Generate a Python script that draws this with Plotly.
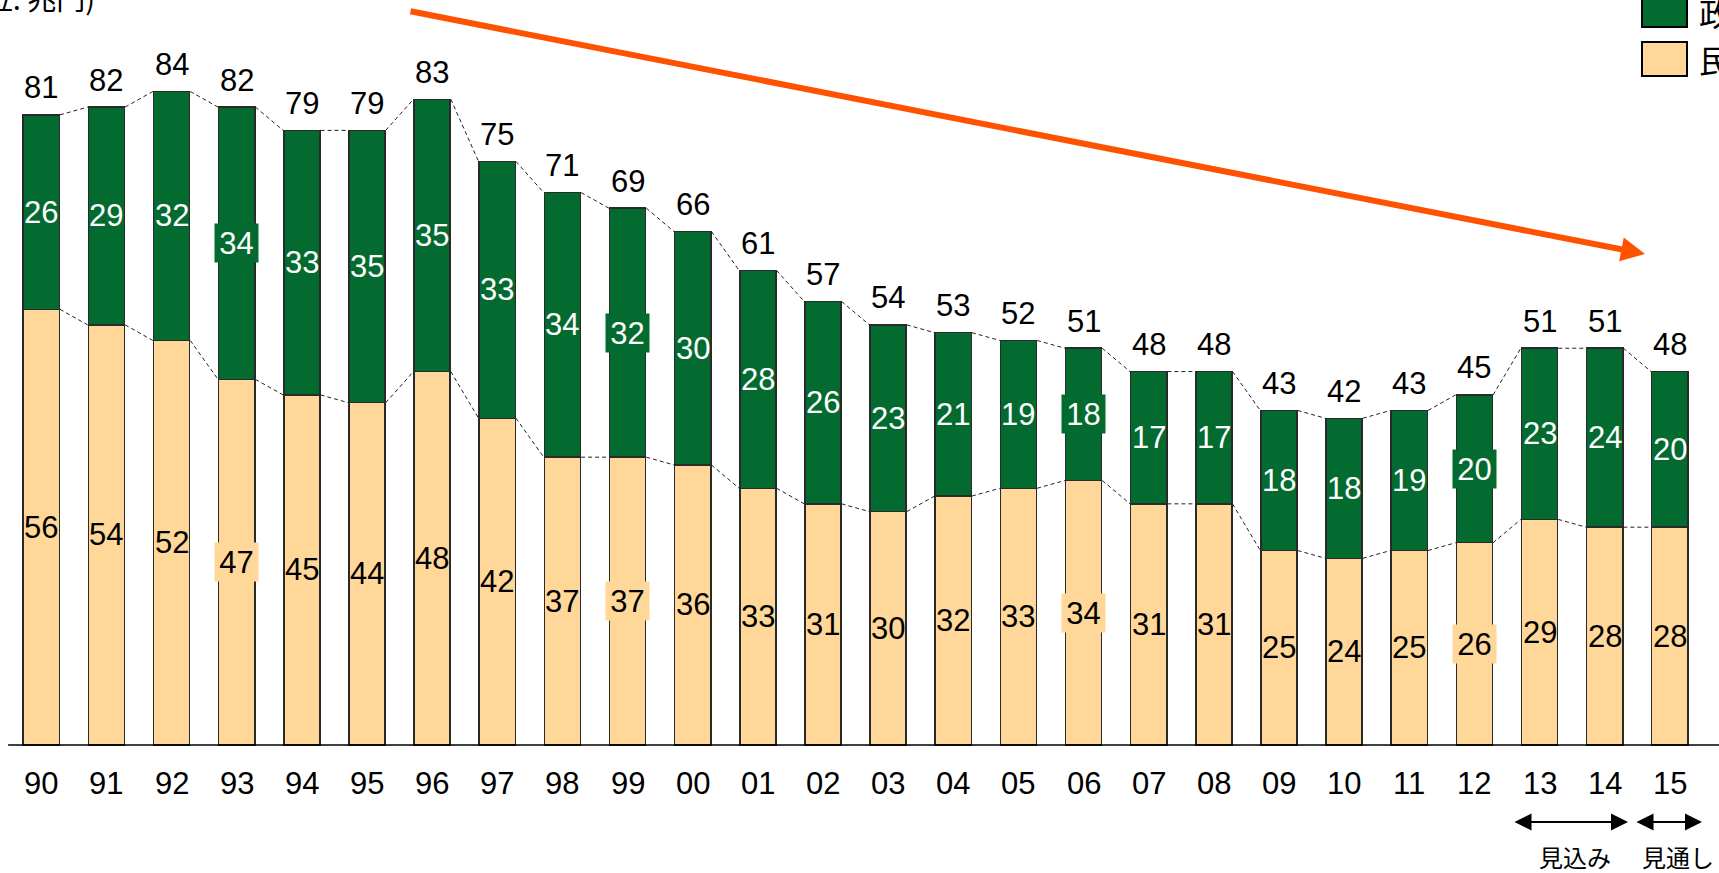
import plotly.graph_objects as go

# ---------------- data ----------------
years = ["90", "91", "92", "93", "94", "95", "96", "97", "98", "99", "00", "01", "02",
         "03", "04", "05", "06", "07", "08", "09", "10", "11", "12", "13", "14", "15"]
private = [56, 54, 52, 47, 45, 44, 48, 42, 37, 37, 36, 33, 31,
           30, 32, 33, 34, 31, 31, 25, 24, 25, 26, 29, 28, 28]
gov = [26, 29, 32, 34, 33, 35, 35, 33, 34, 32, 30, 28, 26,
       23, 21, 19, 18, 17, 17, 18, 18, 19, 20, 23, 24, 20]
total = [81, 82, 84, 82, 79, 79, 83, 75, 71, 69, 66, 61, 57,
         54, 53, 52, 51, 48, 48, 43, 42, 43, 45, 51, 51, 48]
boxed_years = ["93", "99", "06", "12"]
legend_names = ["政府", "民間"]
unit_text = "(単位: 兆円)"
period_labels = ["見込み", "見通し"]

# ---------------- style ----------------
W, H = 1719, 873
GREEN = "#036B30"
TAN = "#FFD899"
ORANGE = "#FF5200"
EDGE = "#2a2a2a"
FONT = "Liberation Sans, Arial, sans-serif"
JFONT = "Noto Sans CJK JP, sans-serif"
FS = 31
BARW = 0.555
HW = 0.287

n = len(years)
xs = list(range(n))
gov_seg = [t - p for t, p in zip(total, private)]

fig = go.Figure()
fig.add_bar(x=xs, y=private, width=BARW, name=legend_names[1],
            marker=dict(color=TAN, line=dict(color=EDGE, width=1.5)))
fig.add_bar(x=xs, y=gov_seg, width=BARW, name=legend_names[0],
            marker=dict(color=GREEN, line=dict(color=EDGE, width=1.5)))

# dashed connectors
for series in (total, private):
    lx, ly = [], []
    for i in range(n - 1):
        lx += [i + HW, i + 1 - HW, None]
        ly += [series[i], series[i + 1], None]
    fig.add_scatter(x=lx, y=ly, mode="lines", hoverinfo="skip",
                    line=dict(color="#222", width=1, dash="4px,3px"))

annotations = []
for i, yr in enumerate(years):
    boxed = yr in boxed_years
    annotations.append(dict(
        x=i, y=private[i] / 2, xref="x", yref="y", text=str(private[i]), showarrow=False,
        font=dict(family=FONT, size=FS, color="black"),
        bgcolor=TAN if boxed else "rgba(0,0,0,0)", width=43 if boxed else None,
        height=38 if boxed else None, borderpad=0, yanchor="middle"))
    annotations.append(dict(
        x=i, y=private[i] + gov_seg[i] / 2, xref="x", yref="y", text=str(gov[i]), showarrow=False,
        font=dict(family=FONT, size=FS, color="white"),
        bgcolor=GREEN if boxed else "rgba(0,0,0,0)", width=43 if boxed else None,
        height=38 if boxed else None, borderpad=0, yanchor="middle"))
    annotations.append(dict(
        x=i, y=total[i], xref="x", yref="y", text=str(total[i]), showarrow=False,
        font=dict(family=FONT, size=FS, color="black"), yanchor="middle", yshift=27))
    annotations.append(dict(
        x=i, y=-4.95, xref="x", yref="y", text=yr, showarrow=False,
        font=dict(family=FONT, size=FS, color="black"), yanchor="middle"))

# unit text (cut by the top edge)
annotations.append(dict(x=97 / W, y=1 + 3 / H, xref="paper", yref="paper", text=unit_text,
                        showarrow=False, xanchor="right", yanchor="middle",
                        font=dict(family=JFONT, size=29, color="black")))

# big orange trend arrow
annotations.append(dict(x=1645 / W, y=1 - 254 / H, xref="paper", yref="paper", text="",
                        showarrow=True, ax=-1236, ay=-243, arrowhead=2, arrowsize=0.8,
                        arrowwidth=6, arrowcolor=ORANGE))

# period arrows
annotations.append(dict(x=1628 / W, y=1 - 822 / H, xref="paper", yref="paper", text="",
                        showarrow=True, ax=-115, ay=0, arrowside="end+start",
                        arrowhead=2, startarrowhead=2, arrowsize=1.7, startarrowsize=1.7,
                        arrowwidth=2, arrowcolor="black"))
annotations.append(dict(x=1702 / W, y=1 - 822 / H, xref="paper", yref="paper", text="",
                        showarrow=True, ax=-67, ay=0, arrowside="end+start",
                        arrowhead=2, startarrowhead=2, arrowsize=1.7, startarrowsize=1.7,
                        arrowwidth=2, arrowcolor="black"))
for lab, px in zip(period_labels, [1575, 1678]):
    annotations.append(dict(x=px / W, y=1 - 856 / H, xref="paper", yref="paper", text=lab,
                            showarrow=False, xanchor="center", yanchor="middle",
                            font=dict(family=JFONT, size=24, color="black")))

# legend (cut by the right edge)
for name, yc in [(legend_names[0], 12), (legend_names[1], 59)]:
    annotations.append(dict(x=1697 / W, y=1 - yc / H, xref="paper", yref="paper", text=name,
                            showarrow=False, xanchor="left", yanchor="middle",
                            font=dict(family=JFONT, size=32, color="black")))

shapes = [
    dict(type="line", xref="x", yref="y", x0=-0.51, x1=26.5, y0=0, y1=0,
         line=dict(color="black", width=1.5)),
    dict(type="rect", xref="paper", yref="paper", x0=1642 / W, x1=1687 / W,
         y0=1 - 27 / H, y1=1 + 3 / H, fillcolor=GREEN, line=dict(color="black", width=2)),
    dict(type="rect", xref="paper", yref="paper", x0=1642 / W, x1=1687 / W,
         y0=1 - 76 / H, y1=1 - 42 / H, fillcolor=TAN, line=dict(color="black", width=2)),
]

fig.update_layout(
    width=W, height=H, margin=dict(l=0, r=0, t=0, b=0),
    barmode="stack", showlegend=False,
    paper_bgcolor="white", plot_bgcolor="white",
    xaxis=dict(range=[-0.634, 25.755], visible=False, fixedrange=True),
    yaxis=dict(range=[-16.45, 95.76], visible=False, fixedrange=True),
    annotations=annotations, shapes=shapes,
)

fig.write_html("out.html", config={"displayModeBar": False},
               post_script="document.body.style.margin='0';document.body.style.overflow='hidden';")
